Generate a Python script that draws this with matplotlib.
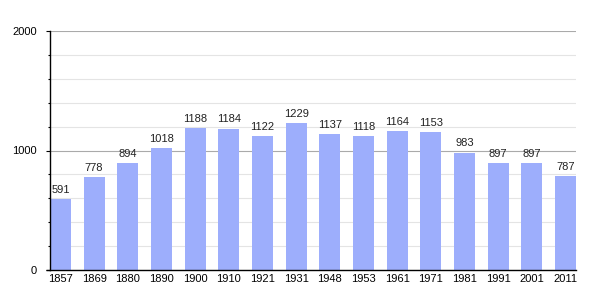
import matplotlib
matplotlib.use("Agg")
import matplotlib.pyplot as plt
import numpy as np
from matplotlib.ticker import MultipleLocator

plt.rcParams["font.family"] = ["Liberation Sans", "DejaVu Sans"]

years = ["1857", "1869", "1880", "1890", "1900", "1910", "1921", "1931",
         "1948", "1953", "1961", "1971", "1981", "1991", "2001", "2011"]
population = [591, 778, 894, 1018, 1188, 1184, 1122, 1229,
              1137, 1118, 1164, 1153, 983, 897, 897, 787]

fig = plt.figure(figsize=(6.05, 3.0), dpi=100)
ax = fig.add_axes([50 / 605, 30 / 300, 526 / 605, 239 / 300])

x = np.arange(len(years))
width = 0.62
ax.bar(x, population, width=width, color="#9daefc", zorder=2)
for xi, v in zip(x, population):
    ax.text(xi, v + 35, str(v), ha="center", va="bottom", fontsize=8, color="#222222")

ax.set_xlim(-width / 2, len(years) - 1 + width / 2)
ax.set_ylim(0, 2000)
ax.set_xticks(x)
ax.set_xticklabels(years, fontsize=8)
ax.yaxis.set_minor_locator(MultipleLocator(200))
ax.set_yticks([0, 1000, 2000])
ax.set_yticklabels(["0", "1000", "2000"], fontsize=8)

ax.grid(axis="y", which="minor", color="#e4e4e4", linewidth=0.8, zorder=0)
ax.grid(axis="y", which="major", color="#aaaaaa", linewidth=0.8, zorder=0)

for side in ["top", "right"]:
    ax.spines[side].set_visible(False)
ax.spines["left"].set_linewidth(1.0)
ax.spines["bottom"].set_linewidth(1.0)
# short stub of the baseline left of the y axis
ax.plot([-4 / 526, 0], [0, 0], transform=ax.transAxes, color="black",
        linewidth=1.0, clip_on=False, solid_capstyle="butt")
ax.tick_params(axis="x", length=0, pad=3)
ax.tick_params(axis="y", which="major", length=3, width=0.8, pad=6.5)
ax.tick_params(axis="y", which="minor", length=1.5, width=0.8)

fig.savefig("out.png", dpi=100)
